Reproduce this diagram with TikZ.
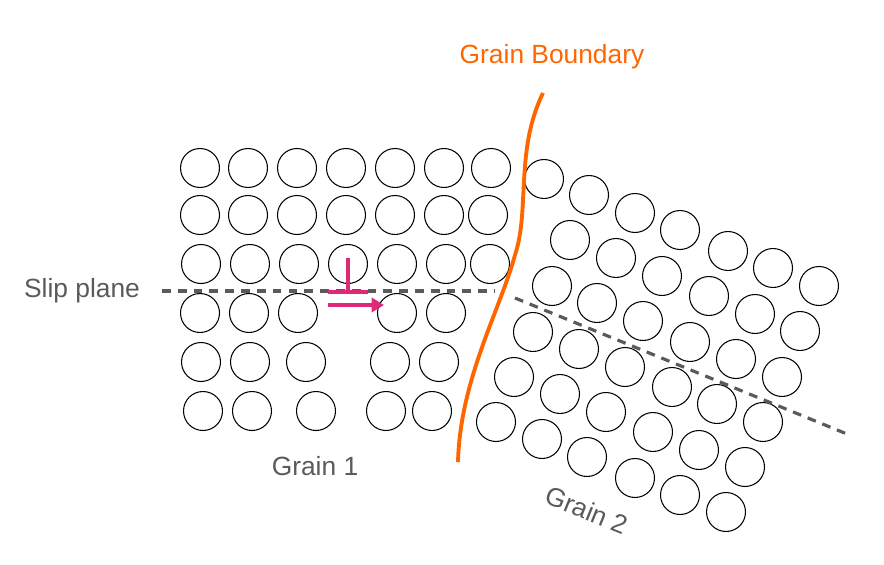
\documentclass[tikz,border=0pt]{standalone}
\usepackage{fontspec}
\setmainfont{Liberation Sans}
\usetikzlibrary{arrows.meta}
\definecolor{gbcol}{RGB}{255,102,0}
\definecolor{dislcol}{RGB}{222,40,120}
\definecolor{txtcol}{RGB}{90,90,90}
\tikzset{
  atom/.style={circle,draw,line width=0.6pt,minimum size=0.78cm,inner sep=0pt},
  lbl/.style={text=txtcol,font=\fontsize{15}{18}\selectfont},
  slip/.style={draw=txtcol,line width=1.8pt,dash pattern=on 5pt off 4pt}
}
\begin{document}
\begin{tikzpicture}[x=0.02cm,y=-0.02cm]
\useasboundingbox (0,0) rectangle (884,564);
% grain 1
\foreach \x [count=\i] in {200,248,297,346,395,444,491}
  \node[atom] (a1\i) at (\x,168) {};
\foreach \x [count=\i] in {200,248,297,346,395,444,488}
  \node[atom] (a2\i) at (\x,215) {};
\foreach \x [count=\i] in {201,250,299,348,397,446,490}
  \node[atom] (a3\i) at (\x,264) {};
\foreach \x [count=\i] in {200,249,298,397,446}
  \node[atom] (a4\i) at (\x,313) {};
\foreach \x [count=\i] in {201,250,306,390,439}
  \node[atom] (a5\i) at (\x,362) {};
\foreach \x [count=\i] in {203,252,316,386,432}
  \node[atom] (a6\i) at (\x,411) {};
% grain 2
\foreach \x/\y [count=\i] in {544/179,589/195,635/213,680/230,728/251,773/268,819/286}
  \node[atom] (b1\i) at (\x,\y) {};
\foreach \x/\y [count=\i] in {570/240,616/258,662/276,709/296,755/314,800/331}
  \node[atom] (b2\i) at (\x,\y) {};
\foreach \x/\y [count=\i] in {552/286,597/303,643/321,690/342,736/359,782/377}
  \node[atom] (b3\i) at (\x,\y) {};
\foreach \x/\y [count=\i] in {533/332,579/349,625/367,672/387,717/404,763/422}
  \node[atom] (b4\i) at (\x,\y) {};
\foreach \x/\y [count=\i] in {514/377,560/394,606/412,653/432,699/450,745/467}
  \node[atom] (b5\i) at (\x,\y) {};
\foreach \x/\y [count=\i] in {496/422,542/439,587/457,635/478,680/495,726/512}
  \node[atom] (b6\i) at (\x,\y) {};
% slip planes
\node[lbl] (slip1) at (82,291) {Slip plane};
\coordinate (s1a) at (162,291);
\coordinate (s1e) at (495,291);
\draw[slip] (s1a) -- (s1e);
\coordinate (s2a) at (515,298);
\coordinate (s2b) at (847,434);
\draw[slip] (s2a) -- (s2b);
% boundary
\coordinate (gb1) at (543,93);
\coordinate (gb2) at (458,462);
\draw[gbcol,line width=2.2pt] (gb1) .. controls (515,150) and (530,210) .. (515,255)
  .. controls (500,310) and (460,380) .. (gb2);
\node[text=gbcol,font=\fontsize{15}{18}\selectfont] (gbl) at (552,57) {Grain Boundary};
% dislocation
\coordinate (d0) at (348,292);
\draw[dislcol,line width=1.8pt] (348,258) -- (d0) (328,292) -- (368,292);
\coordinate (ar1) at (328,305);
\coordinate (ar2) at (384,305);
\draw[dislcol,line width=1.8pt,-{Triangle[length=7pt,width=8pt]}] (ar1) -- (ar2);
% labels
\node[lbl] (g1) at (315,466) {Grain 1};
\node[lbl,rotate=-22] (g2) at (587,510) {Grain 2};
\end{tikzpicture}
\end{document}
